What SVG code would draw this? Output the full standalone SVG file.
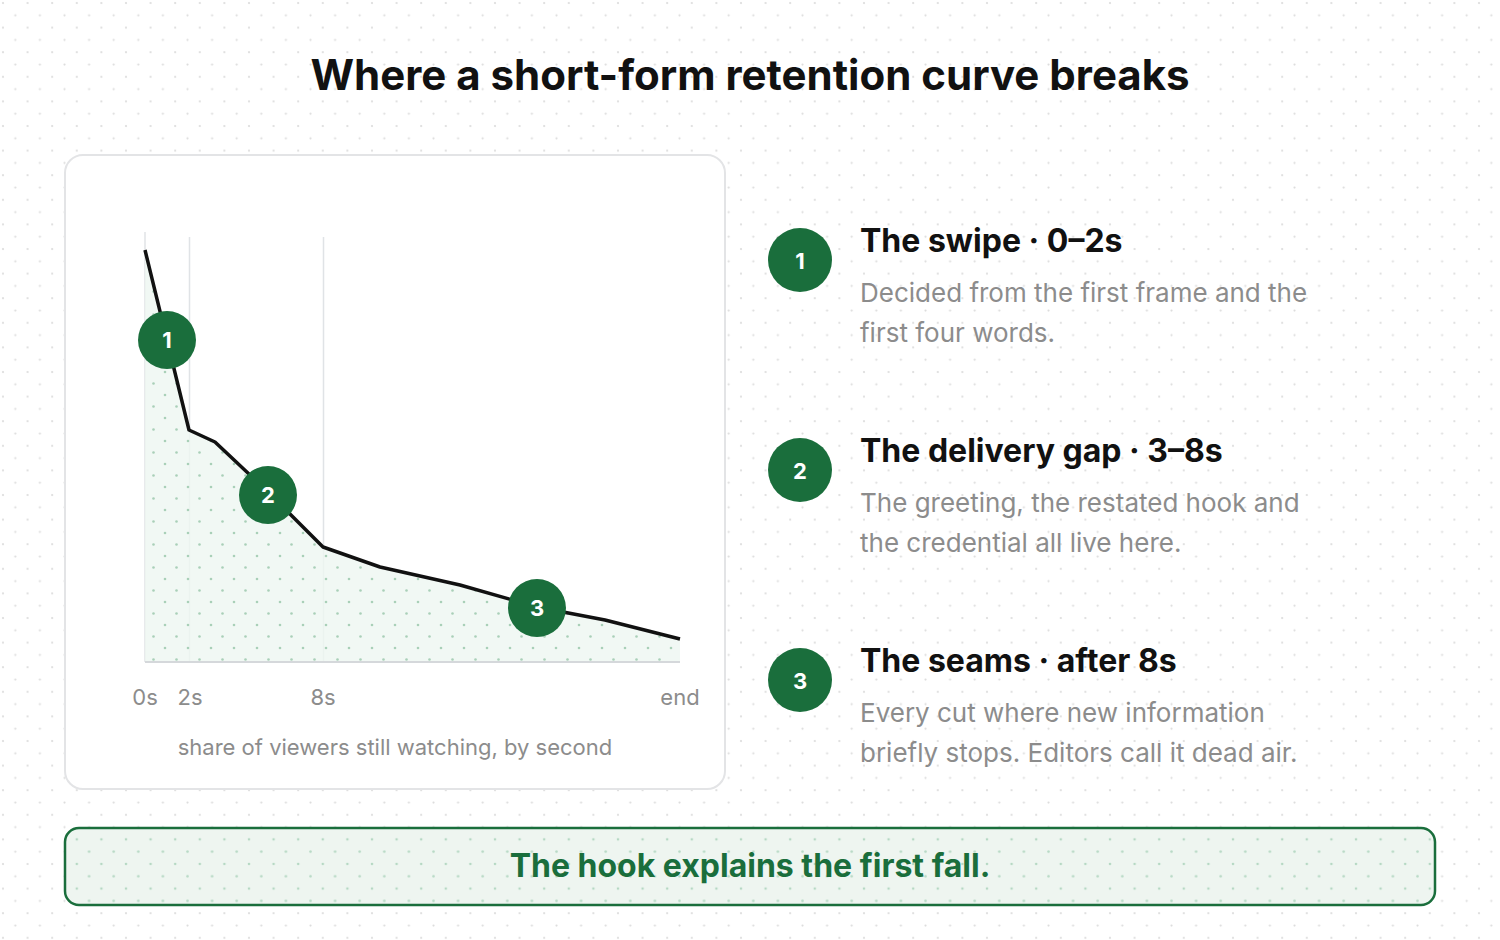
<svg xmlns="http://www.w3.org/2000/svg" width="1500" height="940" viewBox="0 0 1500 940">
<defs>
<pattern id="bg" width="24.6" height="24.6" patternUnits="userSpaceOnUse"><circle cx="3" cy="3" r="1.1" fill="#dcdcdc"/><circle cx="15.3" cy="15.3" r="1.1" fill="#dcdcdc"/></pattern>
<pattern id="gd" width="23" height="23" patternUnits="userSpaceOnUse"><circle cx="4" cy="4" r="1.3" fill="#a9d0b8"/><circle cx="15.5" cy="15.5" r="1.3" fill="#a9d0b8"/></pattern>
<pattern id="bd" width="24.6" height="24.6" patternUnits="userSpaceOnUse"><circle cx="3" cy="3" r="1.3" fill="#b5d8c3"/><circle cx="15.3" cy="15.3" r="1.3" fill="#b5d8c3"/></pattern>
</defs>
<style>
text{font-family:"Helvetica Neue",Inter,"Liberation Sans",Arial,sans-serif}
.badge circle{fill:#1a6e3c}
.badge text{fill:#fff;font-weight:700;font-size:22px;text-anchor:middle}
.h{font-size:32px;font-weight:700;fill:#111}
.d{font-size:26px;fill:#8c8c8c}
.ax{font-size:22px;fill:#8c8c8c;text-anchor:middle}
.grid{stroke:#e0e3e6;stroke-width:1.5}
</style>
<rect width="1500" height="940" fill="#fff"/>
<rect width="1500" height="940" fill="url(#bg)"/>
<text x="750" y="90" text-anchor="middle" font-size="42" font-weight="700" fill="#111">Where a short-form retention curve breaks</text>
<g id="chart">
<rect x="65" y="155" width="660" height="634" rx="18" fill="#fff" stroke="#e3e4e6" stroke-width="2"/>
<line class="grid" x1="145" y1="232" x2="145" y2="662"/>
<line class="grid" x1="189.5" y1="237" x2="189.5" y2="662"/>
<line class="grid" x1="323.5" y1="237" x2="323.5" y2="662"/>
<path d="M145,250 L189,430 L215,442 L268,492 L323,547 L380,567 L460,585 L537,607 L605,620 L680,639 L680,662 L145,662 Z" fill="#eef6f1" opacity="0.8"/>
<path d="M145,250 L189,430 L215,442 L268,492 L323,547 L380,567 L460,585 L537,607 L605,620 L680,639 L680,662 L145,662 Z" fill="url(#gd)"/>
<line x1="145" y1="662" x2="680" y2="662" stroke="#d5d8db" stroke-width="2"/>
<polyline points="145,250 189,430 215,442 268,492 323,547 380,567 460,585 537,607 605,620 680,639" fill="none" stroke="#111" stroke-width="3.5" stroke-linejoin="round"/>
<text class="ax" x="145" y="705">0s</text>
<text class="ax" x="190" y="705">2s</text>
<text class="ax" x="323" y="705">8s</text>
<text class="ax" x="680" y="705">end</text>
<text class="ax" x="395" y="755">share of viewers still watching, by second</text>
</g>
<g id="marker1" class="badge"><circle cx="167" cy="340" r="29"/><text x="167" y="348">1</text></g>
<g id="marker2" class="badge"><circle cx="268" cy="495" r="29"/><text x="268" y="503">2</text></g>
<g id="marker3" class="badge"><circle cx="537" cy="608" r="29"/><text x="537" y="616">3</text></g>
<g id="item1"><g class="badge"><circle cx="800" cy="260" r="32"/><text x="800" y="269">1</text></g>
<text class="h" x="860" y="252">The swipe · 0–2s</text>
<text class="d" x="860" y="302">Decided from the first frame and the</text>
<text class="d" x="860" y="342">first four words.</text></g>
<g id="item2"><g class="badge"><circle cx="800" cy="470" r="32"/><text x="800" y="479">2</text></g>
<text class="h" x="860" y="462">The delivery gap · 3–8s</text>
<text class="d" x="860" y="512">The greeting, the restated hook and</text>
<text class="d" x="860" y="552">the credential all live here.</text></g>
<g id="item3"><g class="badge"><circle cx="800" cy="680" r="32"/><text x="800" y="689">3</text></g>
<text class="h" x="860" y="672">The seams · after 8s</text>
<text class="d" x="860" y="722">Every cut where new information</text>
<text class="d" x="860" y="762">briefly stops. Editors call it dead air.</text></g>
<g id="banner">
<rect x="65" y="828" width="1370" height="77" rx="14" fill="#eef5f0"/>
<rect x="65" y="828" width="1370" height="77" rx="14" fill="url(#bd)" stroke="#1a6e3c" stroke-width="2.5"/>
<text x="750" y="877" text-anchor="middle" font-size="32" font-weight="700" fill="#1a6e3c">The hook explains the first fall.</text>
</g>
</svg>
